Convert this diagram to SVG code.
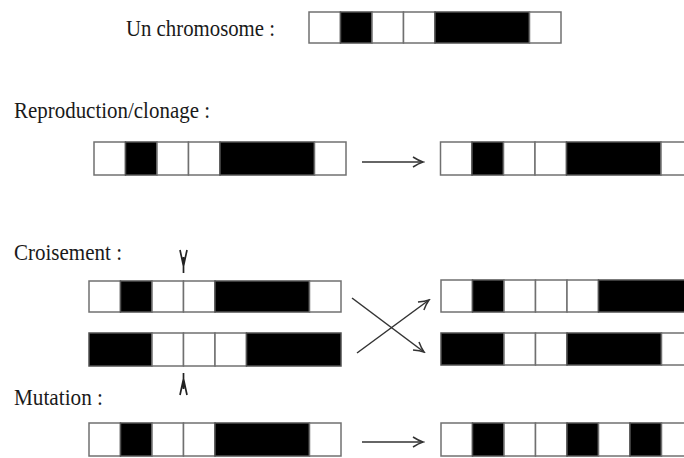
<svg xmlns="http://www.w3.org/2000/svg" width="684" height="458" viewBox="0 0 684 458">
<style>
  .lbl { font-family: "Liberation Serif", "Times New Roman", serif; font-size: 23px; fill: #1a1a1a; }
  .w { fill: #ffffff; stroke: #707070; stroke-width: 1.5; }
  .b { fill: #000000; stroke: #505050; stroke-width: 1.5; }
  .arr { fill: none; stroke: #333333; stroke-width: 1.5; }
  .cut { fill: none; stroke: #222222; stroke-width: 1.7; }
</style>
<defs>
  <marker id="head" markerUnits="userSpaceOnUse" markerWidth="14" markerHeight="12" viewBox="-12 -6 14 12" refX="0" refY="0" orient="auto">
    <path d="M -10,-5 Q -4,-1.2 0,0 Q -4,1.2 -10,5" fill="none" stroke="#333333" stroke-width="1.5"/>
  </marker>
</defs>
<rect width="684" height="458" fill="#ffffff"/>

<g id="labels">
  <text class="lbl" x="126" y="36" textLength="149" lengthAdjust="spacingAndGlyphs">Un chromosome :</text>
  <text class="lbl" x="14" y="118" textLength="196" lengthAdjust="spacingAndGlyphs">Reproduction/clonage :</text>
  <text class="lbl" x="14" y="260" textLength="108" lengthAdjust="spacingAndGlyphs">Croisement :</text>
  <text class="lbl" x="14" y="405" textLength="89" lengthAdjust="spacingAndGlyphs">Mutation :</text>
</g>

<g id="chromosome-top">
  <rect class="w" x="309" y="12" width="31.5" height="31"/>
  <rect class="b" x="340.5" y="12" width="31.5" height="31"/>
  <rect class="w" x="372" y="12" width="31.5" height="31"/>
  <rect class="w" x="403.5" y="12" width="31.5" height="31"/>
  <rect class="b" x="435" y="12" width="94.5" height="31"/>
  <rect class="w" x="529.5" y="12" width="31.5" height="31"/>
</g>

<g id="repro-parent">
  <rect class="w" x="94" y="142" width="31.5" height="33"/>
  <rect class="b" x="125.5" y="142" width="31.5" height="33"/>
  <rect class="w" x="157" y="142" width="31.5" height="33"/>
  <rect class="w" x="188.5" y="142" width="31.5" height="33"/>
  <rect class="b" x="220" y="142" width="94.5" height="33"/>
  <rect class="w" x="314.5" y="142" width="31.5" height="33"/>
</g>

<g id="repro-child">
  <rect class="w" x="440.5" y="142" width="31.5" height="33"/>
  <rect class="b" x="472" y="142" width="31.5" height="33"/>
  <rect class="w" x="503.5" y="142" width="31.5" height="33"/>
  <rect class="w" x="535" y="142" width="31.5" height="33"/>
  <rect class="b" x="566.5" y="142" width="94.5" height="33"/>
  <rect class="w" x="661" y="142" width="31.5" height="33"/>
</g>

<g id="cross-parent-1">
  <rect class="w" x="89" y="281" width="31.5" height="31"/>
  <rect class="b" x="120.5" y="281" width="31.5" height="31"/>
  <rect class="w" x="152" y="281" width="31.5" height="31"/>
  <rect class="w" x="183.5" y="281" width="31.5" height="31"/>
  <rect class="b" x="215" y="281" width="94.5" height="31"/>
  <rect class="w" x="309.5" y="281" width="31.5" height="31"/>
</g>

<g id="cross-parent-2">
  <rect class="b" x="89" y="333" width="63" height="33"/>
  <rect class="w" x="152" y="333" width="31.5" height="33"/>
  <rect class="w" x="183.5" y="333" width="31.5" height="33"/>
  <rect class="w" x="215" y="333" width="31.5" height="33"/>
  <rect class="b" x="246.5" y="333" width="94.5" height="33"/>
</g>

<g id="cross-child-1">
  <rect class="w" x="441" y="280" width="31.5" height="32"/>
  <rect class="b" x="472.5" y="280" width="31.5" height="32"/>
  <rect class="w" x="504" y="280" width="31.5" height="32"/>
  <rect class="w" x="535.5" y="280" width="31.5" height="32"/>
  <rect class="w" x="567" y="280" width="31.5" height="32"/>
  <rect class="b" x="598.5" y="280" width="94.5" height="32"/>
</g>

<g id="cross-child-2">
  <rect class="b" x="441" y="333" width="63" height="32"/>
  <rect class="w" x="504" y="333" width="31.5" height="32"/>
  <rect class="w" x="535.5" y="333" width="31.5" height="32"/>
  <rect class="b" x="567" y="333" width="94.5" height="32"/>
  <rect class="w" x="661.5" y="333" width="31.5" height="32"/>
</g>

<g id="cut-markers">
  <path class="cut" d="M 180,250 L 183.5,266 L 187,250 M 183.5,257 L 183.5,273"/>
  <path class="cut" d="M 180,395 L 183.5,379 L 187,395 M 183.5,373 L 183.5,389"/>
</g>

<g id="mutation-parent">
  <rect class="w" x="89" y="423" width="31.5" height="33"/>
  <rect class="b" x="120.5" y="423" width="31.5" height="33"/>
  <rect class="w" x="152" y="423" width="31.5" height="33"/>
  <rect class="w" x="183.5" y="423" width="31.5" height="33"/>
  <rect class="b" x="215" y="423" width="94.5" height="33"/>
  <rect class="w" x="309.5" y="423" width="31.5" height="33"/>
</g>

<g id="mutation-child">
  <rect class="w" x="441" y="423" width="31.5" height="33"/>
  <rect class="b" x="472.5" y="423" width="31.5" height="33"/>
  <rect class="w" x="504" y="423" width="31.5" height="33"/>
  <rect class="w" x="535.5" y="423" width="31.5" height="33"/>
  <rect class="b" x="567" y="423" width="31.5" height="33"/>
  <rect class="w" x="598.5" y="423" width="31.5" height="33"/>
  <rect class="b" x="630" y="423" width="31.5" height="33"/>
  <rect class="w" x="661.5" y="423" width="31.5" height="33"/>
</g>

<g id="connectors">
  <line class="arr" x1="362" y1="162" x2="423" y2="162" marker-end="url(#head)"/>
  <line class="arr" x1="352" y1="298" x2="424" y2="352" marker-end="url(#head)"/>
  <line class="arr" x1="357" y1="353" x2="429" y2="300" marker-end="url(#head)"/>
  <line class="arr" x1="362" y1="442" x2="423" y2="442" marker-end="url(#head)"/>
</g>
</svg>
